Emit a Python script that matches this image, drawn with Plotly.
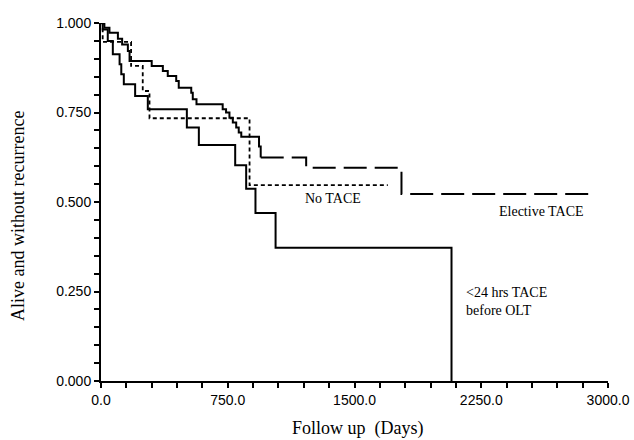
import plotly.graph_objects as go

# ---- data ----
elective_days = [0, 20, 50, 100, 125, 159, 169, 300, 366, 395, 445, 460, 534, 543, 565,
                 720, 740, 760, 780, 800, 815, 830, 935, 945, 1214, 1778, 2900]
elective_surv = [1.0, 0.987, 0.973, 0.956, 0.94, 0.922, 0.894, 0.880, 0.866, 0.852, 0.838,
                 0.819, 0.805, 0.787, 0.773, 0.759, 0.750, 0.735, 0.722, 0.708, 0.694, 0.682,
                 0.655, 0.624, 0.596, 0.522, 0.522]

notace_days = [0, 10, 178, 247, 287, 879, 1697]
notace_surv = [1.0, 0.947, 0.88, 0.81, 0.734, 0.547, 0.547]

early_days = [0, 10, 40, 70, 110, 120, 135, 202, 277, 508, 579, 794, 859, 914, 1033, 2074]
early_surv = [1.0, 0.982, 0.95, 0.913, 0.885, 0.857, 0.829, 0.796, 0.759, 0.708, 0.659,
              0.603, 0.537, 0.469, 0.372, 0.0]

x_ticks = [0, 750, 1500, 2250, 3000]
y_ticks = [0, 0.25, 0.5, 0.75, 1.0]

split = elective_days.index(945)

fig = go.Figure()
fig.add_trace(go.Scatter(x=elective_days[:split + 1], y=elective_surv[:split + 1],
                         mode="lines", line=dict(color="black", width=2, shape="hv"),
                         showlegend=False, cliponaxis=False))
fig.add_trace(go.Scatter(x=elective_days[split:], y=elective_surv[split:],
                         mode="lines", line=dict(color="black", width=2, shape="hv", dash="23px,8px"),
                         showlegend=False))
fig.add_trace(go.Scatter(x=notace_days, y=notace_surv, mode="lines",
                         line=dict(color="black", width=1.8, shape="hv", dash="4px,3px"),
                         showlegend=False, cliponaxis=False))
fig.add_trace(go.Scatter(x=early_days, y=early_surv, mode="lines",
                         line=dict(color="black", width=2, shape="hv"),
                         showlegend=False, cliponaxis=False))

serif = "Liberation Serif"
sans = "Liberation Sans"
lab = dict(family=serif, size=14, color="black")

fig.add_annotation(x=1370, y=0.547, text="No TACE", showarrow=False, xanchor="center",
                   yanchor="middle", yshift=-13, font=lab)
fig.add_annotation(x=2607, y=0.522, text="Elective TACE", showarrow=False, xanchor="center",
                   yanchor="middle", yshift=-17, font=lab)
fig.add_annotation(x=2145, y=0.221, text="&lt;24 hrs TACE<br>before OLT", showarrow=False,
                   xanchor="left", yanchor="middle", align="left", font=lab)

# axis titles
fig.add_annotation(x=0.5, y=0, xref="paper", yref="paper", text="Follow up  (Days)",
                   showarrow=False, xanchor="center", yanchor="middle", yshift=-47,
                   xshift=3, font=dict(family=serif, size=18, color="black"))
fig.add_annotation(x=0, y=0.5, xref="paper", yref="paper", text="Alive and without recurrence",
                   showarrow=False, xanchor="center", yanchor="middle", textangle=-90,
                   xshift=-83, yshift=-14, font=dict(family=serif, size=18, color="black"))

fig.update_layout(
    width=634, height=440,
    margin=dict(l=101, r=26, t=23, b=59),
    plot_bgcolor="white", paper_bgcolor="white",
    xaxis=dict(range=[0, 3000], tickvals=x_ticks, tickformat=".1f", automargin=False,
               showline=True, linecolor="black", linewidth=2, showgrid=False, zeroline=False,
               ticks="outside", ticklen=5, tickwidth=1.5, tickcolor="black",
               minor=dict(dtick=150, ticks="outside", ticklen=5, tickwidth=1.5, tickcolor="black"),
               tickfont=dict(family=sans, size=14, color="black")),
    yaxis=dict(range=[0, 1.0], tickvals=y_ticks, tickformat=".3f", automargin=False,
               showline=True, linecolor="black", linewidth=2, showgrid=False, zeroline=False,
               ticks="outside", ticklen=5, tickwidth=1.5, tickcolor="black",
               minor=dict(dtick=0.05, ticks="outside", ticklen=5, tickwidth=1.5, tickcolor="black"),
               tickfont=dict(family=sans, size=14, color="black"), ticklabelstandoff=0),
)

fig.write_html("out.html", config={"displayModeBar": False},
               post_script="document.body.style.margin='0';document.body.style.overflow='hidden';")
